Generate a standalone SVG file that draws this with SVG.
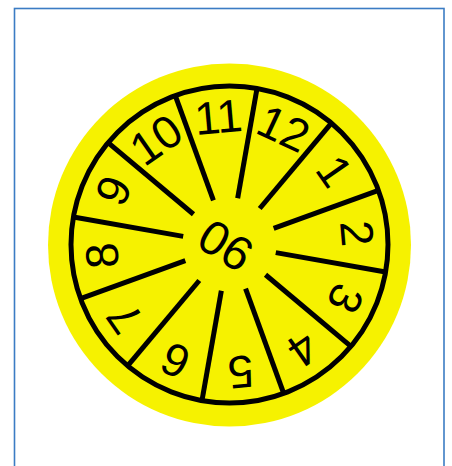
<svg xmlns="http://www.w3.org/2000/svg" width="452" height="466" viewBox="0 0 452 466">
<style>
.num{font-family:"Liberation Sans",Arial,sans-serif;font-size:46px;fill:#000;text-anchor:middle}
.spoke{stroke:#000;stroke-width:5;fill:none}
</style>
<rect x="0" y="0" width="452" height="466" fill="#fff"/>
<rect id="frame" x="14.5" y="8.5" width="429.5" height="470" fill="none" stroke="#3b7cc4" stroke-width="1.6"/>
<g id="disc">
<circle cx="229.5" cy="245" r="181.5" fill="#f6f200"/>
<circle cx="229.5" cy="244.5" r="158.5" fill="none" stroke="#000" stroke-width="5"/>
</g>
<g id="connectors">
<line class="spoke" x1="229.5" y1="197.5" x2="229.5" y2="86" transform="rotate(10 229.5 244.5)"/>
<line class="spoke" x1="229.5" y1="197.5" x2="229.5" y2="86" transform="rotate(40 229.5 244.5)"/>
<line class="spoke" x1="229.5" y1="197.5" x2="229.5" y2="86" transform="rotate(70 229.5 244.5)"/>
<line class="spoke" x1="229.5" y1="197.5" x2="229.5" y2="86" transform="rotate(100 229.5 244.5)"/>
<line class="spoke" x1="229.5" y1="197.5" x2="229.5" y2="86" transform="rotate(130 229.5 244.5)"/>
<line class="spoke" x1="229.5" y1="197.5" x2="229.5" y2="86" transform="rotate(160 229.5 244.5)"/>
<line class="spoke" x1="229.5" y1="197.5" x2="229.5" y2="86" transform="rotate(190 229.5 244.5)"/>
<line class="spoke" x1="229.5" y1="197.5" x2="229.5" y2="86" transform="rotate(220 229.5 244.5)"/>
<line class="spoke" x1="229.5" y1="197.5" x2="229.5" y2="86" transform="rotate(250 229.5 244.5)"/>
<line class="spoke" x1="229.5" y1="197.5" x2="229.5" y2="86" transform="rotate(280 229.5 244.5)"/>
<line class="spoke" x1="229.5" y1="197.5" x2="229.5" y2="86" transform="rotate(310 229.5 244.5)"/>
<line class="spoke" x1="229.5" y1="197.5" x2="229.5" y2="86" transform="rotate(340 229.5 244.5)"/>
</g>
<g id="n12"><text class="num" x="229.5" y="132.5" transform="rotate(25 229.5 244.5)">12</text></g>
<g id="n1"><text class="num" x="229.5" y="132.5" transform="rotate(55 229.5 244.5)">1</text></g>
<g id="n2"><text class="num" x="229.5" y="132.5" transform="rotate(85 229.5 244.5)">2</text></g>
<g id="n3"><text class="num" x="229.5" y="132.5" transform="rotate(115 229.5 244.5)">3</text></g>
<g id="n4"><text class="num" x="229.5" y="132.5" transform="rotate(145 229.5 244.5)">4</text></g>
<g id="n5"><text class="num" x="229.5" y="132.5" transform="rotate(175 229.5 244.5)">5</text></g>
<g id="n6"><text class="num" x="229.5" y="132.5" transform="rotate(205 229.5 244.5)">6</text></g>
<g id="n7"><text class="num" x="229.5" y="132.5" transform="rotate(235 229.5 244.5)">7</text></g>
<g id="n8"><text class="num" x="229.5" y="132.5" transform="rotate(265 229.5 244.5)">8</text></g>
<g id="n9"><text class="num" x="229.5" y="132.5" transform="rotate(295 229.5 244.5)">9</text></g>
<g id="n10"><text class="num" x="229.5" y="132.5" transform="rotate(325 229.5 244.5)">10</text></g>
<g id="n11"><text class="num" x="229.5" y="132.5" transform="rotate(355 229.5 244.5)">11</text></g>
<g id="year"><text class="num" style="font-size:48px" x="226" y="262" transform="rotate(32 226 245)">06</text></g>
</svg>
